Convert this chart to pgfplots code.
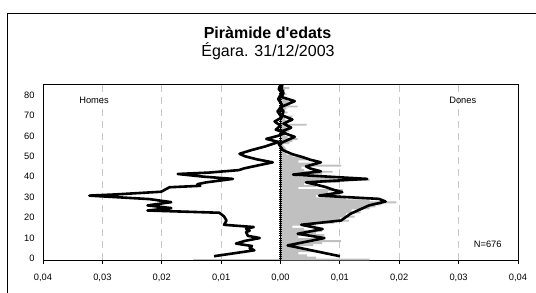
\documentclass[border=0pt]{standalone}
\usepackage{fontspec}
\setmainfont{Liberation Sans}[Ligatures=TeXOff]
\usepackage{pgfplots}
\pgfplotsset{compat=1.18}
\usepackage{pgfplotstable}
\definecolor{bargray}{RGB}{192,192,192}
\definecolor{gridgray}{RGB}{200,200,200}

% Women: single-year bars (share of population)
\pgfplotstableread{
age val
0 0.0150
1 0.0060
2 0.0045
3 0.0030
4 0.0060
5 0.0040
6 0.0025
7 0.0055
8 0.0070
9 0.0102
10 0.0060
11 0.0030
12 0.0074
13 0.0060
14 0.0070
15 0.0040
16 0.0020
17 0.0060
18 0.0090
19 0.0115
20 0.0100
21 0.0125
22 0.0110
23 0.0135
24 0.0120
25 0.0150
26 0.0160
27 0.0170
28 0.0195
29 0.0150
30 0.0110
31 0.0060
32 0.0100
33 0.0080
34 0.0105
35 0.0030
36 0.0060
37 0.0040
38 0.0100
39 0.0150
40 0.0090
41 0.0030
42 0.0070
43 0.0088
44 0.0040
45 0.0035
46 0.0102
47 0.0060
48 0.0030
49 0.0045
50 0.0040
51 0.0020
52 0.0010
53 0.0005
54 0.0010
55 0.0008
56 0.0005
57 0.0015
58 0.0020
59 0.0029
60 0.0012
61 0.0008
62 0.0005
63 0.0015
64 0.0018
65 0.0010
66 0.0044
67 0.0012
68 0.0020
69 0.0008
70 0.0020
71 0.0005
72 0.0012
73 0.0008
74 0.0010
75 0.0029
76 0.0015
77 0.0020
78 0.0012
79 0.0008
80 0.0005
81 0.0010
82 0.0005
83 0.0008
84 0.0015
85 0.0003
}\womenbars

% Men: bar at age 0 (the only one visible)
\pgfplotstableread{
age val
0 -0.0147
}\menbars

% Men: smoothed line
\pgfplotstableread{
age val
1.0 -0.0112
3.9 -0.0044
5.0 -0.0052
6.0 -0.0048
7.2 -0.0075
8.5 -0.0060
9.9 -0.0035
11.0 -0.0055
12.8 -0.0058
13.5 -0.0052
14.4 -0.0058
15.3 -0.0045
16.4 -0.0095
18.5 -0.0091
20.5 -0.0095
22.3 -0.0103
23.4 -0.0224
24.6 -0.0184
25.9 -0.0224
27.5 -0.0184
29.0 -0.0221
30.7 -0.0322
31.3 -0.0277
32.6 -0.0201
34.8 -0.0187
35.5 -0.0135
36.3 -0.0140
37.2 -0.0125
38.9 -0.0080
40.0 -0.0130
41.3 -0.0173
42.0 -0.0120
43.2 -0.0070
44.0 -0.0062
46.0 -0.0030
47.0 -0.0013
48.5 -0.0040
50.0 -0.0060
51.2 -0.0069
53.0 -0.0049
54.7 -0.0027
57.0 -0.0003
58.5 -0.0024
60.0 -0.0004
61.5 0.0008
63.0 -0.0008
65.0 0.0000
67.0 -0.0010
69.0 0.0002
72.0 -0.0005
75.0 0.0003
78.0 -0.0004
81.0 0.0002
83.0 -0.0003
85.0 0.0000
}\menline

% Women: smoothed line
\pgfplotstableread{
age val
1.0 0.0100
6.3 0.0012
9.9 0.0074
12.0 0.0029
14.3 0.0071
16.4 0.0035
18.5 0.0102
21.8 0.0118
23.4 0.0130
25.9 0.0149
27.8 0.0177
29.1 0.0166
30.7 0.0065
32.4 0.0104
33.5 0.0090
35.0 0.0075
36.2 0.0058
37.2 0.0043
38.9 0.0146
41.0 0.0021
42.6 0.0068
44.0 0.0050
45.0 0.0043
47.0 0.0068
48.3 0.0050
49.6 0.0037
51.0 0.0020
53.0 0.0004
56.0 -0.0003
59.5 0.0024
62.0 0.0000
64.0 0.0018
66.0 0.0005
68.0 0.0020
70.0 0.0003
72.0 0.0005
74.0 0.0000
77.0 0.0024
79.0 0.0002
81.0 0.0005
83.0 0.0002
85.0 0.0003
}\womenline

\begin{document}
\begin{tikzpicture}
% outer chart frame (cut by the image edges on the right and bottom)
\draw[line width=0.8bp] (7.5bp,-10bp) |- (560bp,280bp);

\node[anchor=base, font=\bfseries\fontsize{16bp}{19bp}\selectfont] at (267.5bp,254.7bp) {Piràmide d'edats};
\node[anchor=base, font=\fontsize{16bp}{19bp}\selectfont] at (268bp,236.3bp) {Égara. 31/12/2003};

\begin{axis}[
  at={(43bp,32.5bp)}, anchor=south west,
  scale only axis, width=475bp, height=176.5bp,
  xmin=-0.04, xmax=0.04, ymin=-1.1, ymax=85.4,
  xtick={-0.04,-0.03,-0.02,-0.01,0,0.01,0.02,0.03,0.04},
  xticklabels={{0,04},{0,03},{0,02},{0,01},{0,00},{0,01},{0,02},{0,03},{0,04}},
  ytick={0,10,20,30,40,50,60,70,80},
  yticklabels={0,10,20,30,40,50,60,70,80},
  xtick pos=left, ytick pos=left,
  xtick align=outside, ytick align=inside,
  major tick length=3bp,
  ytick style={draw=none},
  xtick style={black, line width=0.8bp},
  xmajorgrids,
  grid style={gridgray, line width=0.8bp, dash pattern=on 7bp off 5bp},
  axis line style={line width=0.8bp},
  ticklabel style={font=\fontsize{9.3bp}{11bp}\selectfont},
  xticklabel style={yshift=-7bp},
  yticklabel style={xshift=-5bp},
  scaled x ticks=false,
]
\addplot[xbar, bar width=0.9, fill=bargray, draw=none] table[x=val, y expr=\thisrow{age}-0.6] {\womenbars};
\addplot[xbar, bar width=0.9, fill=bargray, draw=none] table[x=val, y expr=\thisrow{age}-0.6] {\menbars};
\node[font=\fontsize{9.3bp}{11bp}\selectfont] at (axis cs:-0.0314,77.4) {Homes};
\node[font=\fontsize{9.3bp}{11bp}\selectfont] at (axis cs:0.0307,77.2) {Dones};
\node[font=\fontsize{9.3bp}{11bp}\selectfont] at (axis cs:0.0349,7.0) {N=676};
\end{axis}

% central vertical axis with one tick per year, and the two lines
\begin{axis}[
  at={(43bp,32.5bp)}, anchor=south west,
  scale only axis, width=475bp, height=176.5bp,
  xmin=-0.04, xmax=0.04, ymin=-1.1, ymax=85.4,
  axis x line=none, axis y line=center,
  axis line style={-, line width=0.8bp},
  xtick=\empty,
  ytick={0,1,...,85}, yticklabels={},
  tick align=center, major tick length=3.2bp,
  ytick style={black, line width=0.7bp},
]
\addplot[black, line width=2.6bp, line join=round] table[x=val, y=age] {\menline};
\addplot[black, line width=2.6bp, line join=round] table[x=val, y=age] {\womenline};
\end{axis}

\pgfresetboundingbox
\useasboundingbox (0,0) rectangle (536bp,293bp);
\end{tikzpicture}
\end{document}
